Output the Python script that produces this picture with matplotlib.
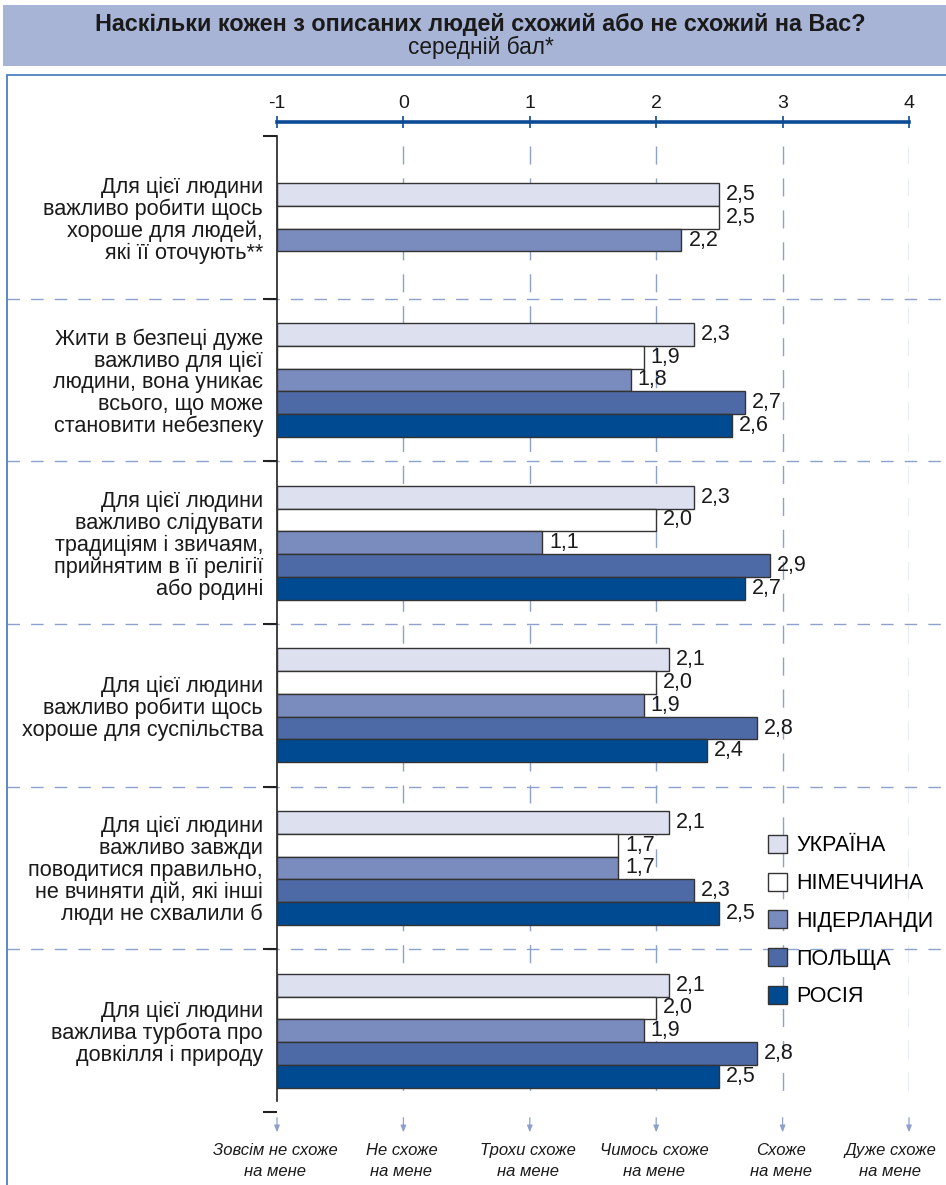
import numpy as np
import matplotlib
matplotlib.use('Agg')
import matplotlib.pyplot as plt
from matplotlib.patches import Patch, Rectangle
from matplotlib.transforms import blended_transform_factory

plt.rcParams['font.family'] = ['Liberation Sans', 'DejaVu Sans']
plt.rcParams['axes.unicode_minus'] = False

# ---------------------------------------------------------------------------
# дані / data
# ---------------------------------------------------------------------------
title = 'Наскільки кожен з описаних людей схожий або не схожий на Вас?'
subtitle = 'середній бал*'

categories = [
    'Для цієї людини\nважливо робити щось\nхороше для людей,\nякі її оточують**',
    'Жити в безпеці дуже\nважливо для цієї\nлюдини, вона уникає\nвсього, що може\nстановити небезпеку',
    'Для цієї людини\nважливо слідувати\nтрадиціям і звичаям,\nприйнятим в її релігії\nабо родині',
    'Для цієї людини\nважливо робити щось\nхороше для суспільства',
    'Для цієї людини\nважливо завжди\nповодитися правильно,\nне вчиняти дій, які інші\nлюди не схвалили б',
    'Для цієї людини\nважлива турбота про\nдовкілля і природу',
]

countries = ['УКРАЇНА', 'НІМЕЧЧИНА', 'НІДЕРЛАНДИ', 'ПОЛЬЩА', 'РОСІЯ']
ukraine     = [2.5, 2.3, 2.3, 2.1, 2.1, 2.1]
germany     = [2.5, 1.9, 2.0, 2.0, 1.7, 2.0]
netherlands = [2.2, 1.8, 1.1, 1.9, 1.7, 1.9]
poland      = [np.nan, 2.7, 2.9, 2.8, 2.3, 2.8]
russia      = [np.nan, 2.6, 2.7, 2.4, 2.5, 2.5]

scale_ticks = [-1, 0, 1, 2, 3, 4]
scale_labels = ['Зовсім не схоже\nна мене', 'Не схоже\nна мене', 'Трохи схоже\nна мене',
                'Чимось схоже\nна мене', 'Схоже\nна мене', 'Дуже схоже\nна мене']

colors = ['#dde1ef', '#ffffff', '#7a8bbe', '#4e6aa6', '#004a92']
grid_col = '#8ea0cc'
axis_blue = '#0c4b93'
txt = '#1a1a1a'

# ---------------------------------------------------------------------------
W, H = 946, 1185
fig = plt.figure(figsize=(W / 100, H / 100), dpi=100)

# смуга заголовка / title band
fig.patches.append(Rectangle((3 / W, 1 - 66 / H), 1.0, 61 / H, transform=fig.transFigure,
                             facecolor='#a8b4d6', edgecolor='none', zorder=0))
fig.text(480 / W, 1 - 24 / H, title, ha='center', va='center', fontsize=16.8,
         fontweight='bold', color=txt)
fig.text(481 / W, 1 - 47 / H, subtitle, ha='center', va='center', fontsize=16.3, color=txt)

# рамка / frame (only left + top visible)
fig.patches.append(Rectangle((7 / W, -0.05), 1.2, 1 - 75 / H + 0.05, transform=fig.transFigure,
                             facecolor='none', edgecolor='#4f80c0', lw=1.3, zorder=0))

ax = fig.add_axes([277 / W, 1 - 1112 / H, 632 / W, 976 / H])
ax.set_xlim(-1, 4)
ax.set_ylim(6, 0)

series = [ukraine, germany, netherlands, poland, russia]
bar_h = 0.14
for g in range(len(categories)):
    present = [k for k in range(len(series)) if not np.isnan(series[k][g])]
    n = len(present)
    for j, k in enumerate(present):
        v = series[k][g]
        y = g + 0.5 + (j - (n - 1) / 2) * bar_h
        b = ax.barh(y, v - scale_ticks[0], left=scale_ticks[0], height=bar_h,
                    color=colors[k], edgecolor='#333333', lw=1, zorder=3)
        ax.bar_label(b, labels=[f'{v:.1f}'.replace('.', ',')], padding=5,
                     fontsize=15.5, color=txt, clip_on=False)

# вертикальні пунктири / vertical dashed guides
ax.vlines(scale_ticks[1:], 0.06, 5.93, colors=grid_col, lw=1, linestyles=(0, (13, 10)), zorder=1)

# горизонтальні розділювачі / group separators across the frame
tr = blended_transform_factory(fig.transFigure, ax.transData)
for g in range(1, len(categories)):
    ax.plot([7 / W, 1.0], [g, g], transform=tr, color=grid_col, lw=1,
            ls=(0, (9, 8)), clip_on=False, zorder=1)

# стрілки знизу / arrows under the scale
for x in scale_ticks:
    ax.annotate('', xy=(x, 6.125), xytext=(x, 6.035), annotation_clip=False,
                arrowprops=dict(arrowstyle='-|>,head_length=0.4,head_width=0.16',
                                color=grid_col, lw=0.9, shrinkA=0, shrinkB=0))
for x, lab in zip(scale_ticks, scale_labels):
    dx = -19 if x == scale_ticks[-1] else -2
    ax.annotate(lab, xy=(x, 6.3), xytext=(dx, 0), textcoords='offset pixels',
                ha='center', va='center', fontsize=12, style='italic', color=txt,
                linespacing=1.45, annotation_clip=False)

# верхня шкала / top axis
ax.xaxis.tick_top()
ax.set_xticks(scale_ticks)
ax.set_xticklabels([str(t) for t in scale_ticks])
ax.tick_params(axis='x', direction='inout', length=9, width=1.2, color=axis_blue,
               labelsize=14, labelcolor=txt, pad=3)
ax.spines['top'].set_position(('outward', 10))
ax.spines['top'].set_color(axis_blue)
ax.spines['top'].set_linewidth(2.6)
ax.spines['right'].set_visible(False)
ax.spines['bottom'].set_visible(False)

# ліва вісь / left axis with group ticks
ax.spines['left'].set_bounds(0, 5.93)
ax.spines['left'].set_color('#222222')
ax.spines['left'].set_linewidth(1.2)
ax.set_yticks(range(len(categories) + 1))
ax.set_yticklabels([])
ax.tick_params(axis='y', which='major', direction='out', length=10, width=1.5, color='#222222')
ax.set_yticks(np.arange(len(categories)) + 0.5, minor=True)
ax.set_yticklabels(categories, minor=True)
ax.tick_params(axis='y', which='minor', length=0, pad=10, labelsize=15.6, labelcolor=txt)
for t in ax.get_yticklabels(minor=True):
    t.set_linespacing(1.05)

ax.set_facecolor('none')

handles = [Patch(facecolor=c, edgecolor='#333333', lw=1) for c in colors]
fig.legend(handles, countries, loc='upper left', bbox_to_anchor=(768 / W, 1 - 835 / H),
           frameon=False, fontsize=15.5, handlelength=0.9, handleheight=0.9,
           handletextpad=0.4, labelspacing=0.76, borderpad=0, borderaxespad=0)

fig.savefig('out.png', dpi=100)
